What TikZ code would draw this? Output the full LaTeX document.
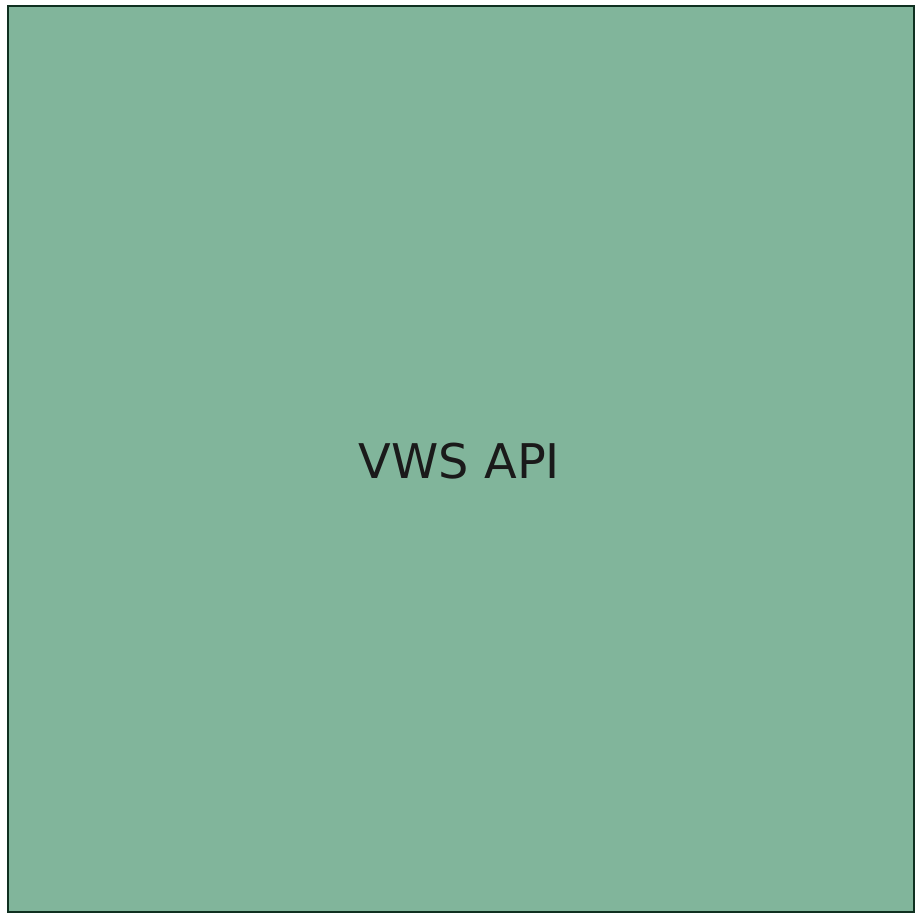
\documentclass[tikz,border=0pt]{standalone}
\usepackage{fontspec}
\setmainfont{DejaVu Sans}
\usepackage{xcolor}
\usetikzlibrary{calc}
\definecolor{boxfill}{HTML}{81B59B}
\definecolor{boxline}{HTML}{0F3020}
\definecolor{apitext}{HTML}{1A1A1A}

\begin{document}
\begin{tikzpicture}[api box/.style={draw=boxline, fill=boxfill, line width=0.7pt}, api label/.style={text=apitext, font=\fontsize{13.6}{16}\selectfont, inner sep=0pt}]
\useasboundingbox (0,0) rectangle (9.21,9.21);
\draw[api box] (0.08,0.09) rectangle (9.14,9.15);
\node[api label] (api) at (4.595,4.60) {VWS API};
\end{tikzpicture}
\end{document}
